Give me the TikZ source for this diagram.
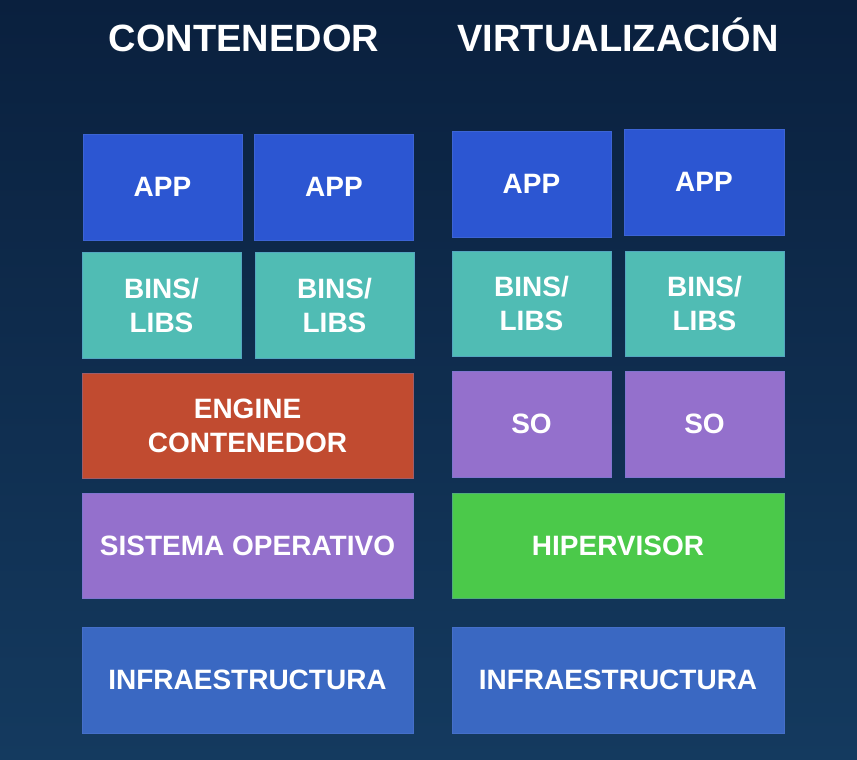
\documentclass[tikz,border=0pt]{standalone}
\usepackage{fontspec}
\setmainfont{Liberation Sans}
\definecolor{bgtop}{RGB}{10,32,62}
\definecolor{bgbot}{RGB}{20,58,95}
\definecolor{appblue}{RGB}{44,86,210}
\definecolor{libteal}{RGB}{80,188,180}
\definecolor{engred}{RGB}{193,75,48}
\definecolor{ospurple}{RGB}{148,112,204}
\definecolor{hypgreen}{RGB}{75,201,74}
\definecolor{infblue}{RGB}{58,104,194}
\definecolor{edgeblue}{RGB}{90,125,215}
\begin{document}
\begin{tikzpicture}[x=1pt,y=-1pt,
  layer/.style={fill=#1, draw=#1!65!edgeblue, line width=0.9pt, text=white,
    font=\bfseries\fontsize{28}{34}\selectfont, align=center,
    inner sep=0pt, minimum height=106pt},
  half/.style={minimum width=159pt},
  full/.style={minimum width=331pt},
  heading/.style={text=white, font=\bfseries\fontsize{38}{44}\selectfont,
    inner sep=0pt, anchor=base}]
  % backdrop
  \shade[top color=bgtop, bottom color=bgbot] (0,0) rectangle (857,760);
  \useasboundingbox (0,0) rectangle (857,760);

  % headings
  \node[heading] (hcont) at (244,52) {CONTENEDOR};
  \node[heading] (hvirt) at (618,52) {VIRTUALIZACIÓN};

  % container stack
  \node[layer=appblue, half] (app1) at (162.5,187) {APP};
  \node[layer=appblue, half] (app2) at (334,187) {APP};
  \node[layer=libteal, half] (bins1) at (161.5,305) {BINS/\\LIBS};
  \node[layer=libteal, half] (bins2) at (334.5,305) {BINS/\\LIBS};
  \node[layer=engred, full, minimum height=105pt] (engine) at (247.5,425.5) {ENGINE\\CONTENEDOR};
  \node[layer=ospurple, full, minimum height=105pt] (sysop) at (247.5,545.5) {SISTEMA OPERATIVO};
  \node[layer=infblue, full] (infra1) at (247.5,680) {INFRAESTRUCTURA};

  % virtual machine stack
  \node[layer=appblue, half] (app3) at (531.5,184) {APP};
  \node[layer=appblue, half, minimum width=160pt] (app4) at (704,182) {APP};
  \node[layer=libteal, half, minimum height=105pt] (bins3) at (531.5,303.5) {BINS/\\LIBS};
  \node[layer=libteal, half, minimum height=105pt] (bins4) at (704.5,303.5) {BINS/\\LIBS};
  \node[layer=ospurple, half] (so1) at (531.5,424) {SO};
  \node[layer=ospurple, half] (so2) at (704.5,424) {SO};
  \node[layer=hypgreen, full, minimum width=332pt, minimum height=105pt] (hyper) at (618,545.5) {HIPERVISOR};
  \node[layer=infblue, full, minimum width=332pt] (infra2) at (618,680) {INFRAESTRUCTURA};
\end{tikzpicture}
\end{document}
